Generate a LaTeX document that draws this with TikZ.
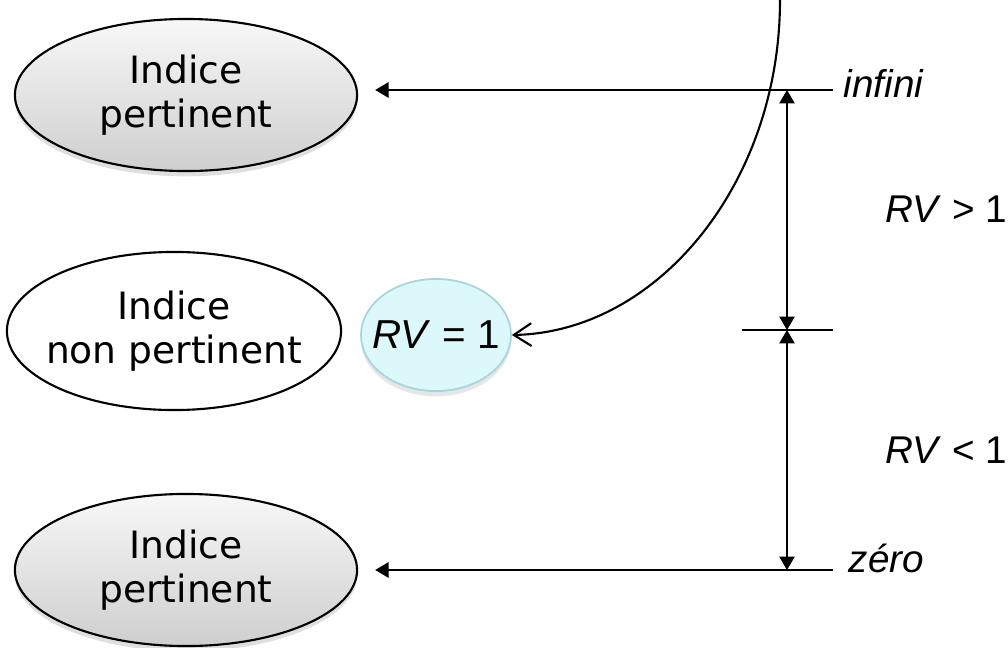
\documentclass[tikz,border=0pt]{standalone}
\usepackage{fontspec}
\setmainfont{DejaVu Sans}
\newfontfamily\arialfont{Liberation Sans}
\usetikzlibrary{arrows.meta,shapes.geometric,shadows}

\definecolor{rvfill}{HTML}{DDF8FB}
\definecolor{rvdraw}{HTML}{A6D6DB}

\tikzset{
  >={Triangle[width=4.3pt,length=3.8pt]},
  indice/.style={ellipse, draw=black, line width=0.6pt, inner sep=0pt, align=center,
    font=\fontsize{10.7}{12.4}\selectfont, minimum width=3.42cm, minimum height=1.52cm},
  indicepert/.style={indice, top color=gray!6, bottom color=gray!38,
    drop shadow={shadow xshift=0pt, shadow yshift=-1.5pt, opacity=0.25, fill=gray}},
  lbl/.style={inner sep=0pt, anchor=base west, font=\arialfont\fontsize{11}{13}\selectfont},
  trait/.style={line width=0.6pt}
}

\begin{document}
\begin{tikzpicture}[x=0.01cm, y=-0.01cm]

    \useasboundingbox (0,0) rectangle (1008,648);

    % les trois indices
    \node[indicepert] (pt1) at (186,95) {Indice\\pertinent};
    \node[indice, inner xsep=-4pt, minimum width=3.34cm, minimum height=1.58cm] (npt) at (174,331) {Indice\\non pertinent};
    \node[indicepert] (pt2) at (186,570) {Indice\\pertinent};

    \node[ellipse, inner sep=0pt, inner xsep=-3pt, minimum width=1.44cm, minimum height=1.12cm,
          fill=rvfill, draw=rvdraw, line width=0.5pt,
          drop shadow={shadow xshift=0pt, shadow yshift=-1.5pt, opacity=0.2, fill=gray},
          font=\arialfont\fontsize{11.5}{13}\selectfont] (rv1) at (436,335) {\textit{RV} = 1};

    % echelle
    \coordinate (inf) at (833,90);
    \coordinate (zer) at (833,570);
    \coordinate (vtop) at (787,90);
    \coordinate (vmid) at (787,330);
    \coordinate (vbot) at (787,570);
    \coordinate (tickl) at (742,330);
    \coordinate (tickr) at (833,330);
    \coordinate (haut) at (780,0);

    \draw[trait, ->, shorten >=0.17cm] (inf) -- (inf -| pt1.east);
    \draw[trait, ->, shorten >=0.17cm] (zer) -- (zer -| pt2.east);
    \draw[trait] (tickl) -- (tickr);
    \draw[trait, <->] (vtop) -- (vmid);
    \draw[trait, <->] (vmid) -- (vbot);

    \draw[trait, -{Straight Barb[length=5pt,width=6.5pt]}]
        (haut) .. controls (780,183) and (658,332) .. (rv1.east);

    % textes
    \node[lbl] (tinf) at (843,97) {\textit{infini}};
    \node[lbl] (tzer) at (848,572) {\textit{zéro}};
    \node[lbl] (tsup) at (885,222) {\textit{RV} > 1};
    \node[lbl] (tinf1) at (885,463) {\textit{RV} < 1};

\end{tikzpicture}
\end{document}
